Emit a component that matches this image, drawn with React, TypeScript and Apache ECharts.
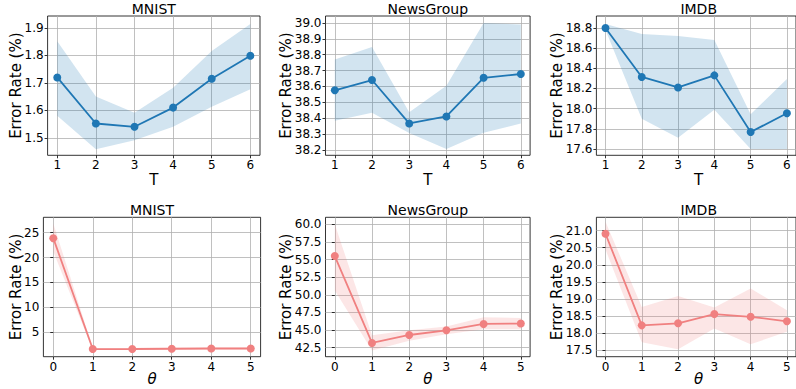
import React, { useEffect, useRef } from "react";
import * as echarts from "echarts";

// ---------- Data ----------
const tValues = [1, 2, 3, 4, 5, 6];
const thetaValues = [0, 1, 2, 3, 4, 5];

const mnistT = [1.72, 1.552, 1.54, 1.61, 1.715, 1.799];
const mnistTUpper = [1.852, 1.65, 1.591, 1.682, 1.816, 1.915];
const mnistTLower = [1.58, 1.458, 1.491, 1.54, 1.613, 1.677];

const newsT = [38.575, 38.64, 38.366, 38.41, 38.654, 38.678];
const newsTUpper = [38.77, 38.848, 38.436, 38.604, 39.0, 38.99];
const newsTLower = [38.383, 38.433, 38.305, 38.204, 38.307, 38.366];

const imdbT = [18.8, 18.314, 18.21, 18.33, 17.768, 17.954];
const imdbTUpper = [18.84, 18.74, 18.72, 18.68, 17.944, 18.294];
const imdbTLower = [18.78, 17.9, 17.71, 17.99, 17.6, 17.6];

const mnistTheta = [23.9, 1.59, 1.6, 1.65, 1.7, 1.7];
const mnistThetaUpper = [26.87, 1.8, 1.8, 1.85, 1.9, 1.9];
const mnistThetaLower = [21.2, 1.4, 1.4, 1.45, 1.5, 1.5];

const newsTheta = [55.5, 43.17, 44.3, 44.97, 45.87, 45.92];
const newsThetaUpper = [60.0, 44.27, 44.97, 45.5, 46.8, 46.7];
const newsThetaLower = [50.6, 42.1, 43.5, 44.4, 45.1, 45.1];

const imdbTheta = [20.91, 18.23, 18.29, 18.56, 18.48, 18.35];
const imdbThetaUpper = [21.26, 18.77, 19.09, 18.75, 19.31, 18.67];
const imdbThetaLower = [20.45, 17.74, 17.53, 18.14, 17.68, 18.04];

// tick labels
const mnistTTicks = [1.5, 1.6, 1.7, 1.8, 1.9];
const newsTTicks = [38.2, 38.3, 38.4, 38.5, 38.6, 38.7, 38.8, 38.9, 39.0];
const imdbTTicks = [17.6, 17.8, 18.0, 18.2, 18.4, 18.6, 18.8];
const mnistThetaTicks = [5, 10, 15, 20, 25];
const newsThetaTicks = [42.5, 45.0, 47.5, 50.0, 52.5, 55.0, 57.5, 60.0];
const imdbThetaTicks = [17.5, 18.0, 18.5, 19.0, 19.5, 20.0, 20.5, 21.0];

const titles = ["MNIST", "NewsGroup", "IMDB", "MNIST", "NewsGroup", "IMDB"];
const yAxisTitle = "Error Rate (%)";

// ---------- Styles ----------
const BLUE = "#1f77b4";
const BLUE_BAND = "rgba(31,119,180,0.2)";
const RED = "#f08080";
const RED_BAND = "rgba(240,128,128,0.2)";
const FONT = "DejaVu Sans";

const panels = [
  { xs: tValues, mean: mnistT, upper: mnistTUpper, lower: mnistTLower, yMin: 1.436, yMax: 1.944, yTicks: mnistTTicks, dec: 1,
    grid: { left: 47.6, top: 16, width: 212.4, height: 139.3 }, xMin: 0.75, xMax: 6.25, xName: "T", color: BLUE, band: BLUE_BAND, yNameX: 16 },
  { xs: tValues, mean: newsT, upper: newsTUpper, lower: newsTLower, yMin: 38.165, yMax: 39.044, yTicks: newsTTicks, dec: 1,
    grid: { left: 325.5, top: 16, width: 204.6, height: 139.3 }, xMin: 0.75, xMax: 6.25, xName: "T", color: BLUE, band: BLUE_BAND, yNameX: 286 },
  { xs: tValues, mean: imdbT, upper: imdbTUpper, lower: imdbTLower, yMin: 17.537, yMax: 18.919, yTicks: imdbTTicks, dec: 1,
    grid: { left: 596.4, top: 16, width: 204.6, height: 139.3 }, xMin: 0.75, xMax: 6.25, xName: "T", color: BLUE, band: BLUE_BAND, yNameX: 557 },
  { xs: thetaValues, mean: mnistTheta, upper: mnistThetaUpper, lower: mnistThetaLower, yMin: 0.05, yMax: 28.1, yTicks: mnistThetaTicks, dec: 0,
    grid: { left: 43.4, top: 217.3, width: 217.2, height: 139.4 }, xMin: -0.25, xMax: 5.25, xName: "θ", color: RED, band: RED_BAND, yNameX: 16 },
  { xs: thetaValues, mean: newsTheta, upper: newsThetaUpper, lower: newsThetaLower, yMin: 41.22, yMax: 61.0, yTicks: newsThetaTicks, dec: 1,
    grid: { left: 325.5, top: 217.3, width: 204.6, height: 139.4 }, xMin: -0.25, xMax: 5.25, xName: "θ", color: RED, band: RED_BAND, yNameX: 286 },
  { xs: thetaValues, mean: imdbTheta, upper: imdbThetaUpper, lower: imdbThetaLower, yMin: 17.314, yMax: 21.39, yTicks: imdbThetaTicks, dec: 1,
    grid: { left: 596.4, top: 217.3, width: 204.6, height: 139.4 }, xMin: -0.25, xMax: 5.25, xName: "θ", color: RED, band: RED_BAND, yNameX: 557 },
];

function buildOption() {
  const grids: any[] = [];
  const xAxes: any[] = [];
  const yAxes: any[] = [];
  const series: any[] = [];
  const graphics: any[] = [];

  panels.forEach((p, i) => {
    grids.push({
      ...p.grid,
      show: true,
      borderColor: "#000",
      borderWidth: 0.8,
      backgroundColor: "transparent",
      containLabel: false,
    });
    const tickStyle = { show: true, inside: false, length: 3, lineStyle: { color: "#000", width: 0.8 } };
    const labelStyle = { color: "#000", fontFamily: FONT, fontSize: 12 };
    xAxes.push({
      type: "value",
      gridIndex: i,
      min: p.xMin,
      max: p.xMax,
      axisLine: { show: false },
      axisTick: { ...tickStyle, customValues: p.xs },
      axisLabel: { ...labelStyle, margin: 4, customValues: p.xs, formatter: (v: number) => String(Math.round(v)) },
      splitLine: { show: true, lineStyle: { color: "#b0b0b0", width: 0.8 } },
    });
    yAxes.push({
      type: "value",
      gridIndex: i,
      min: p.yMin,
      max: p.yMax,
      axisLine: { show: false },
      axisTick: { ...tickStyle, customValues: p.yTicks },
      axisLabel: { ...labelStyle, margin: 4, customValues: p.yTicks, formatter: (v: number) => v.toFixed(p.dec) },
      splitLine: { show: true, lineStyle: { color: "#b0b0b0", width: 0.8 } },
    });
    // uncertainty band
    series.push({
      type: "custom",
      xAxisIndex: i,
      yAxisIndex: i,
      data: p.xs.map((x, j) => [x, p.lower[j], p.upper[j]]),
      encode: { x: 0, y: [1, 2] },
      silent: true,
      z: 1,
      renderItem: (params: any, api: any) => {
        if (params.dataIndex !== 0) return { type: "group", children: [] };
        const top = p.xs.map((x, j) => api.coord([x, p.upper[j]]));
        const bot = p.xs.map((x, j) => api.coord([x, p.lower[j]])).reverse();
        return {
          type: "polygon",
          shape: { points: top.concat(bot) },
          style: { fill: p.band, stroke: "none" },
          silent: true,
        };
      },
    });
    series.push({
      type: "line",
      xAxisIndex: i,
      yAxisIndex: i,
      data: p.xs.map((x, j) => [x, p.mean[j]]),
      symbol: "circle",
      symbolSize: 8,
      itemStyle: { color: p.color },
      lineStyle: { color: p.color, width: 1.8 },
      z: 3,
    });

    const cx = p.grid.left + p.grid.width / 2;
    const cy = p.grid.top + p.grid.height / 2;
    const row = i < 3 ? 0 : 1;
    // title
    graphics.push({
      type: "text",
      x: cx,
      y: row === 0 ? 8.5 : 209.7,
      style: { text: titles[i], font: `14px "${FONT}"`, fill: "#000", textAlign: "center", textVerticalAlign: "middle" },
    });
    // x name
    graphics.push({
      type: "text",
      x: cx,
      y: row === 0 ? 179.5 : 379,
      style: {
        text: p.xName,
        font: `${row === 1 ? "italic " : ""}15px "${FONT}"`,
        fill: "#000",
        textAlign: "center",
        textVerticalAlign: "middle",
      },
    });
    // y name
    graphics.push({
      type: "text",
      x: p.yNameX,
      y: cy,
      rotation: Math.PI / 2,
      style: { text: yAxisTitle, font: `15px "${FONT}"`, fill: "#000", textAlign: "center", textVerticalAlign: "middle" },
    });
  });

  return {
    animation: false,
    backgroundColor: "#fff",
    grid: grids,
    xAxis: xAxes,
    yAxis: yAxes,
    series,
    graphic: graphics,
  };
}

export default function App() {
  const ref = useRef<HTMLDivElement>(null);
  useEffect(() => {
    if (!ref.current) return;
    const chart = echarts.init(ref.current, undefined, { renderer: "svg" });
    chart.setOption(buildOption() as any);
    return () => chart.dispose();
  }, []);
  return (
    <div
      ref={ref}
      style={{ position: "fixed", left: 0, top: 0, width: 796, height: 389, background: "#fff" }}
    />
  );
}
